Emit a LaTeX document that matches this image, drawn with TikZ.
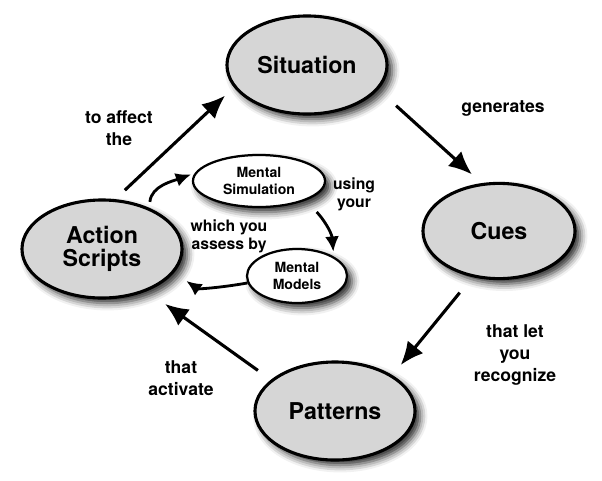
\documentclass[tikz,border=0pt]{standalone}
\usepackage{fontspec}
\setmainfont{TeX Gyre Heros}
\usetikzlibrary{arrows.meta,shapes.geometric,shadows.blur}
\definecolor{nodegray}{RGB}{214,214,214}
\tikzset{
  flowarrow/.style={-{Latex[length=5.8mm, width=5mm]}, line width=2.2pt},
  subarrow/.style={-{Latex[length=3.8mm, width=3.5mm]}, line width=2pt},
  nodeshadow/.style={blur shadow={shadow xshift=1.3mm, shadow yshift=-1.3mm, shadow blur radius=1.8mm, shadow opacity=85}},
  mainnode/.style={ellipse, draw, line width=2.2pt, fill=nodegray, nodeshadow, minimum width=4cm, minimum height=2.45cm, inner sep=0pt, align=center, font=\bfseries\fontsize{16.5}{16}\selectfont},
  subnode/.style={ellipse, draw, line width=1.6pt, fill=white, nodeshadow, inner sep=0pt, align=center, font=\bfseries\fontsize{10}{12.5}\selectfont},
  relabel/.style={font=\bfseries\fontsize{12.5}{15.5}\selectfont, align=center},
  sublabel/.style={font=\bfseries\fontsize{11.2}{13}\selectfont, align=center}
}

\begin{document}
\begin{tikzpicture}[x=0.025cm, y=-0.025cm, >=Latex]
  \useasboundingbox (0,0) rectangle (602,480);
  % main cycle
  \node[mainnode] (sit) at (307,65) {Situation};
  \node[mainnode, minimum width=3.8cm, minimum height=2.38cm] (cues) at (499,231) {Cues};
  \node[mainnode] (pat) at (335,411) {Patterns};
  \node[mainnode] (act) at (102,249) {Action\\Scripts};
  % inner loop
  \node[subnode, minimum width=3.3cm, minimum height=1.3cm] (sim) at (259,181) {Mental\\Simulation};
  \node[subnode, minimum width=2.5cm, minimum height=1.35cm] (mod) at (297,276) {Mental\\Models};

  \draw[flowarrow, shorten <=3.25mm, shorten >=3mm] (act.75) -- (sit.197);
  \draw[flowarrow, shorten <=6mm, shorten >=3.25mm] (sit.-19) -- (cues.110);
  \draw[flowarrow, shorten <=5mm, shorten >=3.25mm] (cues.240) -- (pat.32);
  \draw[flowarrow, shorten <=4mm, shorten >=5.5mm] (pat.154) -- (act.-43);

  \draw[subarrow, shorten <=1.5mm, shorten >=1mm] (act.41) to[out=85, in=200] (sim.173);
  \draw[subarrow, shorten <=4mm, shorten >=1.2mm] (sim.-23) to[out=-45, in=95] (mod.28);
  \draw[subarrow, shorten >=3.7mm] (mod.188) to[out=190, in=-35] (act.-18);

  % labels
  \node[relabel] (affect) at (119,128) {to affect\\the};
  \node[relabel] (gen) at (503,108) {generates};
  \node[relabel] (recog) at (515,355) {that let\\you\\recognize};
  \node[relabel] (activ) at (181,378) {that\\activate};
  \node[sublabel] (using) at (354,194) {using\\your};
  \node[sublabel] (assess) at (229,236) {which you\\assess by};
\end{tikzpicture}
\end{document}
